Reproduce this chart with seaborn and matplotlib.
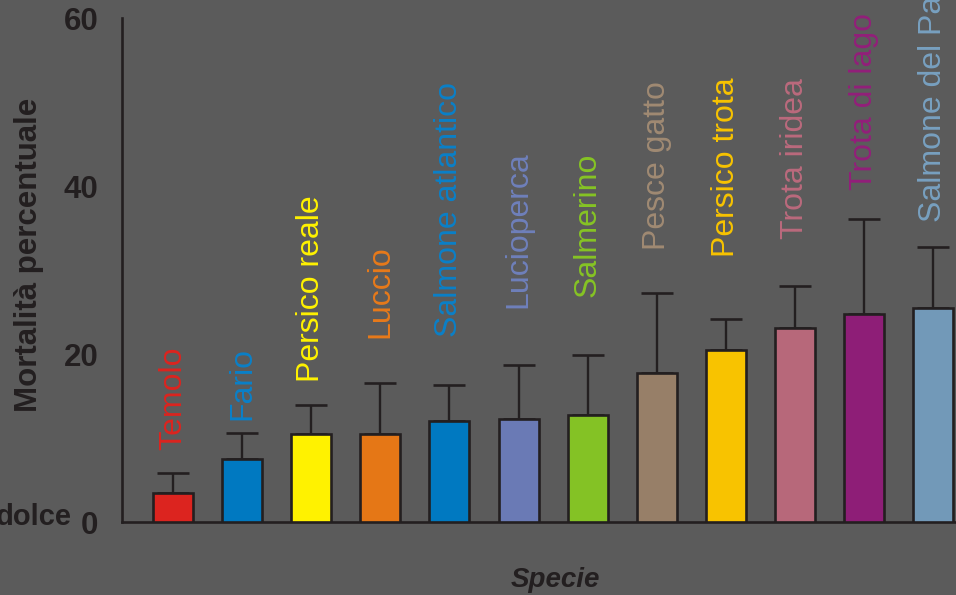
import numpy as np
import pandas as pd
import matplotlib
matplotlib.use("Agg")
import matplotlib.pyplot as plt
import seaborn as sns

# data
species = ["Temolo", "Fario", "Persico reale", "Luccio", "Salmone atlantico",
           "Lucioperca", "Salmerino", "Pesce gatto", "Persico trota",
           "Trota iridea", "Trota di lago", "Salmone del Pacifico"]
mortality = [3.45, 7.5, 10.5, 10.5, 12.0, 12.3, 12.7, 17.7, 20.5, 23.1, 24.8, 25.5]
err_up = [2.35, 3.1, 3.4, 6.0, 4.3, 6.4, 7.2, 9.6, 3.7, 5.0, 11.3, 7.2]
label_y = [8.6, 12.1, 16.7, 21.9, 22.0, 25.5, 26.8, 32.4, 31.5, 33.7, 39.5, 35.7]
colors = ["#dc241f", "#0079c1", "#fff200", "#e57716", "#0079c1", "#6a7ab5",
          "#84c225", "#977f68", "#f8c300", "#b7687a", "#8e1e77", "#7299b8"]
label_colors = ["#dc241f", "#0a80c8", "#fff200", "#e87a1a", "#0a80c8", "#6f80bb",
                "#86c424", "#a08a73", "#f8c300", "#bb6a7d", "#921f7a", "#78a0c0"]
yticks = [0, 20, 40, 60]

bg = "#5b5b5b"
ink = "#231f20"

df = pd.DataFrame({"specie": species, "mortalita": mortality})

sns.set_theme(style="white")
plt.rcParams["font.family"] = ["Liberation Sans", "DejaVu Sans"]

fig = plt.figure(figsize=(9.56, 5.95), dpi=100, facecolor=bg)
ax = fig.add_axes([122 / 956, 73 / 595, 834 / 956, 504 / 595])
ax.set_facecolor(bg)

sns.barplot(data=df, x="specie", y="mortalita", hue="specie", palette=colors,
            legend=False, width=0.58, edgecolor=ink, linewidth=1.9,
            saturation=1, ax=ax, zorder=3)

xs = np.arange(len(species))
ax.errorbar(xs, mortality, yerr=[np.zeros(len(species)), err_up], fmt="none",
            ecolor=ink, elinewidth=1.7, capsize=11.5, capthick=1.9, zorder=2)

for i, name in enumerate(species):
    ax.text(i, label_y[i], name, rotation=90, ha="center", va="bottom",
            color=label_colors[i], fontsize=23, zorder=4)

ax.set_xlim(-0.738, 11.33)
ax.set_ylim(0, 60)
ax.set_yticks(yticks)
ax.set_yticklabels([str(t) for t in yticks], fontsize=22.5, fontweight="bold", color=ink)
ax.tick_params(axis="y", length=0, pad=17)
ax.set_xticks([])
ax.set_xlabel("")
ax.set_ylabel("Mortalità percentuale", fontsize=22.5, fontweight="bold", color=ink)
ax.yaxis.set_label_coords(-0.093, 0.53)

sns.despine(ax=ax)
for side in ["left", "bottom"]:
    ax.spines[side].set_color(ink)
    ax.spines[side].set_linewidth(1.9)

fig.text(555 / 956, 1 - 580 / 595, "Specie", ha="center", va="center",
         fontsize=20, fontweight="bold", fontstyle="italic", color=ink)
fig.text(72 / 956, 1 - 517 / 595, "dolce", ha="right", va="center",
         fontsize=21, fontweight="bold", color=ink)

fig.savefig("out.png", dpi=100, facecolor=bg)
